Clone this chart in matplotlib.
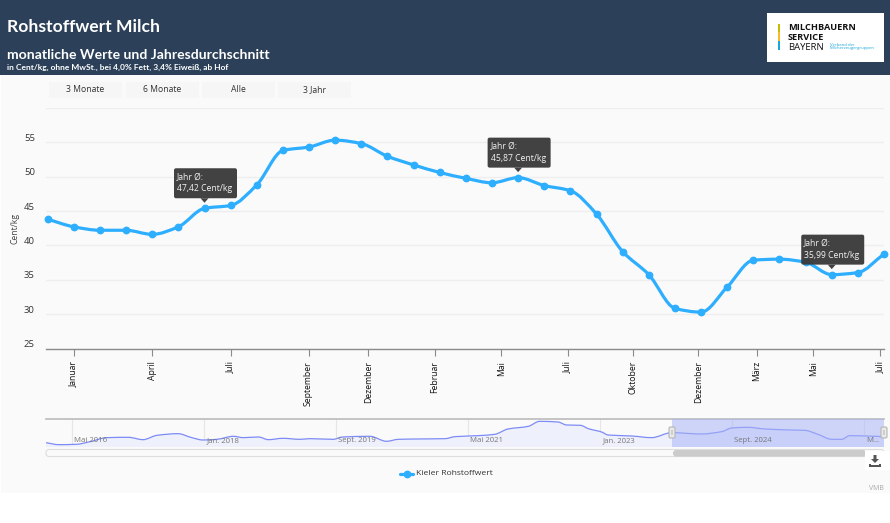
import matplotlib
matplotlib.use('Agg')
import matplotlib.pyplot as plt
import matplotlib.transforms as mtrans
from matplotlib.patches import FancyBboxPatch, PathPatch, Polygon, Rectangle
from matplotlib.path import Path
import numpy as np

W, H = 890, 523

values = [43.8, 42.7, 42.2, 42.2, 41.6, 42.7, 45.4, 45.8, 48.8, 53.8, 54.3,
          55.3, 54.8, 52.95, 51.7, 50.6, 49.75, 49.1, 49.85, 48.7, 47.95,
          44.55, 39.1, 35.75, 30.85, 30.3, 33.95, 37.85, 38.0, 37.55, 35.75,
          36.05, 38.75]

month_ticks = [1, 4, 7, 9.98, 12.27, 14.82, 17.35, 19.9, 22.4, 24.9, 27.13, 29.3, 31.85]
month_labels = ['Januar', 'April', 'Juli', 'September', 'Dezember', 'Februar', 'Mai',
                'Juli', 'Oktober', 'Dezember', 'März', 'Mai', 'Juli']

y_ticks = [25, 30, 35, 40, 45, 50, 55, 60]
y_labels = ['25', '30', '35', '40', '45', '50', '55', '']

tip_index = [6, 18, 30]
tip_text = ['Jahr Ø:\n47,42 Cent/kg', 'Jahr Ø:\n45,87 Cent/kg', 'Jahr Ø:\n35,99 Cent/kg']

nav_months = [0, 1.9, 4.6, 6.7, 9.2, 12.5, 14.7, 16.8, 20, 22.1, 23.8, 25.9, 28.4, 29.9,
              32.2, 33.7, 35.9, 38.5, 40, 43.5, 45, 49.1, 51.6, 53.4, 56.2, 60.5, 62,
              65.5, 68, 70, 73.1, 74.8, 77.6, 78.9, 81, 82.2, 84.2, 85.2, 88.7, 91.8,
              94.8, 99.3, 102.4, 103.9, 106.4, 109, 113, 115, 117, 119.1, 120.6, 121.8,
              124.1, 127]
nav_values = [23.4, 19.2, 19.9, 25.5, 33.8, 34.5, 29.6, 38.6, 42.1, 33.8, 28.9, 30.3, 36.6,
              33.8, 35.2, 29.6, 32.4, 30.3, 31.7, 30.3, 35.2, 36.6, 26.2, 30.3, 31.0, 31.7,
              35.9, 38.0, 40.7, 51.8, 57.4, 67.8, 66.4, 60.2, 59.5, 52.5, 45.6, 39.3, 37.3,
              33.8, 44.2, 41.4, 46.3, 53.9, 55.3, 51.8, 49.7, 49.0, 40.7, 30.3, 30.3, 38.0,
              37.3, 35.9]
nav_grid = [4, 24, 44, 64, 84, 104, 124]
nav_labels = ['Mai 2016', 'Jan. 2018', 'Sept. 2019', 'Mai 2021', 'Jan. 2023', 'Sept. 2024', 'M...']

UI_FONT = ['Open Sans', 'DejaVu Sans']
HEAD_FONT = ['Lato', 'DejaVu Sans']
BLUE = '#2EAEFF'


def px_axes(fig, x0, y0, x1, y1, **kw):
    # box given in pixels, y counted from the top
    return fig.add_axes([x0 / W, 1 - y1 / H, (x1 - x0) / W, (y1 - y0) / H], **kw)


def smooth_path(xs, ys):
    # monotone cubic bezier segments, no overshoot at the turning points
    xs = np.asarray(xs, dtype=float)
    ys = np.asarray(ys, dtype=float)
    dx = np.diff(xs)
    sl = np.diff(ys) / dx
    t = np.zeros(len(xs))
    t[0] = sl[0]
    t[-1] = sl[-1]
    for i in range(1, len(xs) - 1):
        if sl[i - 1] * sl[i] > 0:
            t[i] = 2 * sl[i - 1] * sl[i] / (sl[i - 1] + sl[i])
    verts = [(xs[0], ys[0])]
    codes = [Path.MOVETO]
    for i in range(len(xs) - 1):
        verts.append((xs[i] + dx[i] / 3, ys[i] + t[i] * dx[i] / 3))
        verts.append((xs[i + 1] - dx[i] / 3, ys[i + 1] - t[i + 1] * dx[i] / 3))
        verts.append((xs[i + 1], ys[i + 1]))
        codes += [Path.CURVE4] * 3
    return verts, codes


fig = plt.figure(figsize=(W / 100, H / 100), dpi=100, facecolor='white')

# page layer in pixels
bg = px_axes(fig, 0, 0, W, H, zorder=0)
bg.set_xlim(0, W)
bg.set_ylim(H, 0)
bg.axis('off')
bg.add_patch(Rectangle((1, 74), W, 419, color='#FAFAFA', lw=0))
bg.add_patch(Rectangle((0, 0), W, 74.5, color='#2C4159', lw=0))

bg.text(7, 27, 'Rohstoffwert Milch', color='white', fontsize=12.6, family=HEAD_FONT,
        fontweight='bold', va='center')
bg.text(7, 55, 'monatliche Werte und Jahresdurchschnitt', color='white', fontsize=10.1,
        family=HEAD_FONT, fontweight='bold', va='center')
bg.text(7, 67, 'in Cent/kg, ohne MwSt., bei 4,0% Fett, 3,4% Eiweiß, ab Hof', color='white',
        fontsize=6.05, family=HEAD_FONT, fontweight='bold', va='center')

# logo
bg.add_patch(Rectangle((767, 13), 116.5, 49, color='white', lw=0))
bg.add_patch(Rectangle((778, 24), 2, 8, color='#C4BD00', lw=0))
bg.add_patch(Rectangle((778, 32), 2, 9, color='#FBB92A', lw=0))
bg.add_patch(Rectangle((778, 41), 2, 9, color='#1DA6DB', lw=0))
bg.text(788, 27.5, 'MILCHBAUERN', fontsize=6.6, fontweight='bold', family=UI_FONT, color='#111111', va='center')
bg.text(788, 37, 'SERVICE', fontsize=6.6, fontweight='bold', family=UI_FONT, color='#111111', va='center')
bg.text(788, 47, 'BAYERN', fontsize=6.8, family=UI_FONT, color='#111111', va='center')
bg.text(830, 44.5, 'Verband der', fontsize=3.1, family=UI_FONT, color='#1DA6DB', va='center')
bg.text(830, 48.5, 'Milcherzeugergruppen', fontsize=3.1, family=UI_FONT, color='#1DA6DB', va='center')

# range buttons
for x0, label in zip([49, 126, 202, 278], ['3 Monate', '6 Monate', 'Alle', '3 Jahr']):
    bg.add_patch(Rectangle((x0, 82), 72.5, 16, color='#F6F6F6', lw=0))
    bg.text(x0 + 36.5, 92.5, label, fontsize=6.2, family=UI_FONT, color='#333333', ha='center', va='baseline')

bg.text(15, 228, 'Cent/kg', fontsize=6.2, family=UI_FONT, color='#444444', rotation=90, ha='center', va='center')

# main chart
ax = px_axes(fig, 46, 107.8, 884, 348.6, zorder=1)
ax.patch.set_alpha(0)
ax.set_xlim(-0.065, 32)
ax.set_ylim(25, 60)
ax.set_yticks(y_ticks)
ax.set_yticklabels(y_labels, fontsize=6.8, family=UI_FONT, color='#333333')
ax.tick_params(axis='y', length=0, pad=8)
lift = mtrans.ScaledTranslation(0, 5 / 100, fig.dpi_scale_trans)
for lab in ax.get_yticklabels():
    lab.set_transform(lab.get_transform() + lift)
ax.grid(axis='y', color='#EEEEEE', lw=1.0)
ax.set_axisbelow(True)
for side in ['top', 'right', 'left']:
    ax.spines[side].set_visible(False)
ax.spines['bottom'].set_color('#8A8A8A')
ax.spines['bottom'].set_linewidth(1.0)
ax.set_xticks(month_ticks)
ax.set_xticklabels(month_labels, rotation=90, fontsize=6.2, family=UI_FONT, color='#111111')
ax.tick_params(axis='x', length=5, width=0.8, color='#8A8A8A', pad=4)

xs = np.arange(len(values))
verts, codes = smooth_path(xs, values)
ax.add_patch(PathPatch(Path(verts, codes), fill=False, edgecolor=BLUE, lw=2.3, clip_on=False,
                       capstyle='round', zorder=3))
ax.plot(xs, values, ls='none', marker='o', ms=4.6, color=BLUE, clip_on=False, zorder=4)

# navigator
nav = px_axes(fig, 46, 418.7, 884, 447, zorder=1)
nav.patch.set_alpha(0)
nav.set_xlim(0, 127)
nav.set_ylim(14.3, 73.3)
nav.set_xticks([])
nav.set_yticks([])
for side in ['right', 'left', 'bottom']:
    nav.spines[side].set_visible(False)
nav.spines['top'].set_color('#BBBBBB')
nav.spines['top'].set_linewidth(1.2)
for m, label in zip(nav_grid, nav_labels):
    nav.axvline(m, color='#E6E6E6', lw=0.8, zorder=1)
    nav.annotate(label, (m, 14.3), xytext=(1.5, 2.2), textcoords='offset points', fontsize=5.6,
                 family=UI_FONT, color='#777777', va='bottom', zorder=5)
nv, nc = smooth_path(nav_months, nav_values)
fill_verts = nv + [(nav_months[-1], 14.3), (nav_months[0], 14.3), nv[0]]
fill_codes = nc + [Path.LINETO, Path.LINETO, Path.CLOSEPOLY]
nav.add_patch(PathPatch(Path(fill_verts, fill_codes), facecolor='#EEF0FB', edgecolor='none', zorder=2))
nav.add_patch(PathPatch(Path(nv, nc), fill=False, edgecolor='#7D8CF5', lw=0.9, zorder=3))
nav.axvspan(94.8, 127, color='#AAB4F8', alpha=0.55, lw=0, zorder=4)

# overlay: tooltips, navigator handles, scrollbar, legend
top = px_axes(fig, 0, 0, W, H, zorder=5)
top.set_xlim(0, W)
top.set_ylim(H, 0)
top.axis('off')
top.patch.set_alpha(0)

to_px = bg.transData.inverted()
for i, txt in zip(tip_index, tip_text):
    px, py = to_px.transform(ax.transData.transform((i, values[i])))
    box_x = px - 30.5
    box_y = py - 40
    top.add_patch(FancyBboxPatch((box_x + 1.5, box_y + 1.5), 60, 27, boxstyle='round,pad=1.5,rounding_size=2',
                                 fc='#3A3A3A', ec='none', alpha=0.96))
    top.add_patch(Polygon([(px - 4, box_y + 30), (px + 4, box_y + 30), (px, py - 5.5)], closed=True,
                          fc='#3A3A3A', ec='none', alpha=0.96))
    top.text(box_x + 3, box_y + 15, txt, fontsize=6.2, family=UI_FONT, color='#F2F2F2', va='center',
             linespacing=1.3)

top.add_patch(FancyBboxPatch((47, 450.5), 836, 5, boxstyle='round,pad=1,rounding_size=3', fc='#FAFAFA',
                             ec='#DDDDDD', lw=0.8))
top.add_patch(FancyBboxPatch((674, 451), 191, 4.5, boxstyle='round,pad=1,rounding_size=3', fc='#CBCBCB',
                             ec='none'))
for hx in [672, 884]:
    top.add_patch(FancyBboxPatch((hx - 2, 428), 4, 9, boxstyle='round,pad=1,rounding_size=1.5', fc='#E9E9E9',
                                 ec='#B5B5B5', lw=0.8))
    top.add_patch(Rectangle((hx - 1, 430), 2, 5, fc='#CFCFCF', ec='none'))

# download button
top.add_patch(Rectangle((865, 451), 25, 19, fc='white', ec='none'))
top.add_patch(Polygon([(873.5, 455), (876.5, 455), (876.5, 459), (879, 459), (875, 463), (871, 459), (873.5, 459)],
                      closed=True, fc='#555555', ec='none'))
top.add_patch(Polygon([(869, 467), (869, 463.5), (871, 463.5), (871, 465), (879, 465), (879, 463.5), (881, 463.5),
                       (881, 467)], closed=True, fc='#555555', ec='none'))

top.plot([400, 413], [474, 474], color=BLUE, lw=2.3, solid_capstyle='round')
top.plot([406.5], [474], marker='o', ms=4.6, color=BLUE)
top.text(415.5, 473.5, 'Kieler Rohstoffwert', fontsize=6.1, family=UI_FONT, color='#333333', va='center')
top.text(884, 488.5, 'VMB', fontsize=5, family=UI_FONT, color='#AAAAAA', ha='right', va='center')
top.set_xlim(0, W)
top.set_ylim(H, 0)

fig.savefig('out.png', dpi=100)
